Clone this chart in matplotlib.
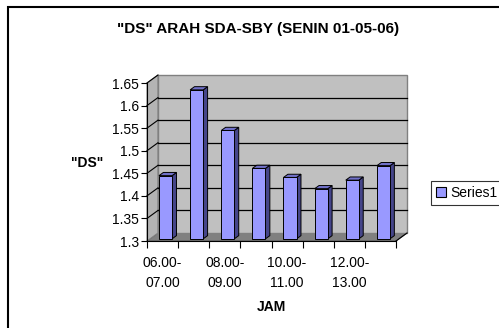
import numpy as np
import matplotlib
matplotlib.use("Agg")
import matplotlib.pyplot as plt
from matplotlib.patches import Rectangle, Polygon

plt.rcParams['font.family'] = ['Liberation Sans', 'DejaVu Sans']

# ---- data ----
categories = ["06.00-\n07.00", "07.00-\n08.00", "08.00-\n09.00", "09.00-\n10.00",
              "10.00-\n11.00", "11.00-\n12.00", "12.00-\n13.00", "13.00-\n14.00"]
values = [1.440, 1.630, 1.540, 1.456, 1.436, 1.411, 1.430, 1.462]
yticks = [1.3, 1.35, 1.4, 1.45, 1.5, 1.55, 1.6, 1.65]
title = '"DS" ARAH SDA-SBY (SENIN 01-05-06)'
ylabel = '"DS"'
xlabel = 'JAM'
series_name = 'Series1'

W_PX, H_PX = 499, 328
fig = plt.figure(figsize=(W_PX / 100, H_PX / 100), dpi=100)

# front plane of the 3-D plot (pixels)
L, R, T, B = 147, 396, 83, 241
ax = fig.add_axes([L / W_PX, 1 - B / H_PX, (R - L) / W_PX, (B - T) / H_PX])
ymin, ymax = 1.3, 1.65
n = len(values)
ax.set_xlim(-0.5, n - 0.5)
ax.set_ylim(ymin, ymax)
ax.patch.set_visible(False)

# depth offset in pixels -> data units
DX_PX, DY_PX = 11, 8
ux = n / (R - L)
uy = (ymax - ymin) / (B - T)
ddx, ddy = DX_PX * ux, DY_PX * uy

x0, x1 = -0.5, n - 0.5
# floor
ax.add_patch(Polygon([(x0, ymin), (x1, ymin), (x1 + ddx, ymin + ddy), (x0 + ddx, ymin + ddy)],
                     closed=True, fc='#808080', ec='#606060', lw=0.8, zorder=1, clip_on=False))
# left side wall
ax.add_patch(Polygon([(x0, ymin), (x0, ymax), (x0 + ddx, ymax + ddy), (x0 + ddx, ymin + ddy)],
                     closed=True, fc='#B4B4B4', ec='#808080', lw=0.8, zorder=1, clip_on=False))
# back wall
ax.add_patch(Rectangle((x0 + ddx, ymin + ddy), x1 - x0, ymax - ymin,
                       fc='#C0C0C0', ec='#808080', lw=1.0, zorder=1, clip_on=False))
# gridlines
for v in yticks[1:-1]:
    ax.plot([x0 + ddx, x1 + ddx], [v + ddy, v + ddy], color='black', lw=0.9, zorder=2, clip_on=False)
for v in yticks[1:]:
    ax.plot([x0, x0 + ddx], [v, v + ddy], color='black', lw=0.8, zorder=2, clip_on=False)
# floor right edge
ax.plot([x1, x1 + ddx], [ymin, ymin + ddy], color='black', lw=0.8, zorder=2, clip_on=False)

# bars
w = 0.42
f0, f1 = 0.27, 0.67
dd = f1 - f0
for i, v in enumerate(values):
    bx = i - w / 2 + f0 * ddx
    base = ymin + f0 * ddy
    top = v + f0 * ddy
    ax.add_patch(Polygon([(bx + w, base), (bx + w, top), (bx + w + dd * ddx, top + dd * ddy),
                          (bx + w + dd * ddx, base + dd * ddy)], closed=True,
                         fc='#45458A', ec='black', lw=0.7, zorder=3, clip_on=False))
    ax.add_patch(Polygon([(bx, top), (bx + w, top), (bx + w + dd * ddx, top + dd * ddy),
                          (bx + dd * ddx, top + dd * ddy)], closed=True,
                         fc='#7070C8', ec='black', lw=0.7, zorder=3, clip_on=False))
    ax.add_patch(Rectangle((bx, base), w, v - ymin, fc='#9999FF', ec='black', lw=0.7,
                           zorder=4, clip_on=False))

# axes
for s in ['top', 'right']:
    ax.spines[s].set_visible(False)
ax.spines['left'].set_linewidth(0.8)
ax.spines['bottom'].set_linewidth(0.8)
ax.spines['left'].set_zorder(5)
ax.spines['bottom'].set_zorder(5)
ax.set_yticks(yticks)
ax.set_yticklabels([f'{t:g}' for t in yticks], fontsize=10)
ax.tick_params(axis='y', direction='out', length=4, width=0.8, pad=1.5)
ax.set_xticks(np.arange(-0.5, n, 1.0))
ax.set_xticklabels([])
ax.tick_params(axis='x', which='major', direction='out', length=5, width=0.8)
ax.set_xticks(np.arange(n), minor=True)
ax.set_xticklabels([c if i % 2 == 0 else '' for i, c in enumerate(categories)],
                   minor=True, fontsize=10, linespacing=1.5)
ax.tick_params(axis='x', which='minor', length=0, pad=11)

# texts
fig.text(258 / W_PX, 1 - 29 / H_PX, title, ha='center', va='center', fontsize=11, fontweight='bold')
fig.text(87 / W_PX, 1 - 163 / H_PX, ylabel, ha='center', va='center', fontsize=10, fontweight='bold')
fig.text(271 / W_PX, 1 - 307 / H_PX, xlabel, ha='center', va='center', fontsize=10, fontweight='bold')

# legend
handle = Rectangle((0, 0), 1, 1, fc='#9999FF', ec='black', lw=0.8)
leg = fig.legend([handle], [series_name], loc='center left',
                 bbox_to_anchor=(431 / W_PX, 1 - 193 / H_PX), borderaxespad=0,
                 fontsize=10, frameon=True, fancybox=False, shadow=False,
                 handlelength=0.7, handleheight=0.7, handletextpad=0.35, borderpad=0.35)
leg.get_frame().set_edgecolor('black')
leg.get_frame().set_linewidth(0.8)

# chart area border
fig.patches.append(Rectangle((8 / W_PX, -0.5), 2, 1.5 - 7 / H_PX, transform=fig.transFigure,
                             fill=False, ec='black', lw=1.5))

fig.savefig('out.png', dpi=100)
